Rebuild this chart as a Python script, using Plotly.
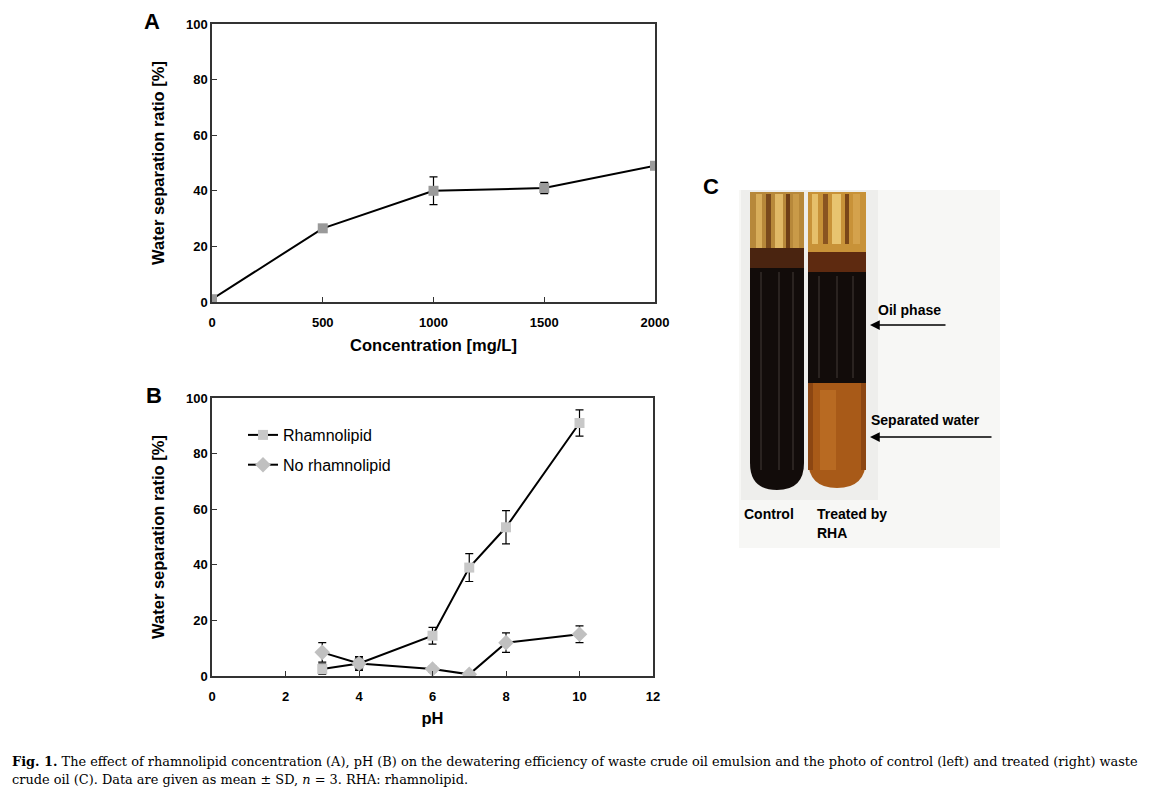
import plotly.graph_objects as go

# the page body has an 8px margin, so the figure is 8px smaller and every
# position below is given in reference pixels, shifted by OFF
OFF = 8
W, H = 1150 - OFF, 791 - OFF

# panel A: concentration series
conc = [0, 500, 1000, 1500, 2000]
conc_ratio = [1.0, 26.5, 40.0, 41.0, 49.0]
conc_sd = [0.6, 1.0, 5.0, 2.0, 1.0]

# panel B: pH series
ph = [3, 4, 6, 7, 8, 10]
rha_ratio = [2.5, 4.5, 14.5, 39.0, 53.5, 91.0]
rha_sd = [1.8, 2.5, 3.0, 5.0, 6.0, 4.7]
ctrl_ratio = [8.5, 4.5, 2.5, 0.6, 12.0, 15.0]
ctrl_sd = [3.5, 2.0, 1.0, 0.5, 3.5, 3.0]

y_ticks = [0, 20, 40, 60, 80, 100]
conc_ticks = [0, 500, 1000, 1500, 2000]
ph_ticks = [0, 2, 4, 6, 8, 10, 12]

FONT = "Liberation Sans"


def dx(x0, x1):
    return [(x0 - OFF) / W, (x1 - OFF) / W]


def dy(y0, y1):
    # pixel rows (top, bottom) -> paper domain
    return [1 - (y1 - OFF) / H, 1 - (y0 - OFF) / H]


fig = go.Figure()

err = dict(type="data", thickness=1.2, width=4, color="black")

fig.add_trace(go.Scatter(
    x=conc, y=conc_ratio, error_y=dict(array=conc_sd, **err),
    mode="lines+markers", line=dict(color="black", width=2),
    marker=dict(symbol="square", size=10, color="#9a9a9a"),
    showlegend=False, xaxis="x", yaxis="y"))

fig.add_trace(go.Scatter(
    x=ph, y=rha_ratio, error_y=dict(array=rha_sd, **err),
    mode="lines+markers", line=dict(color="black", width=2),
    marker=dict(symbol="square", size=10, color="#c8c8c8"),
    name="Rhamnolipid", legendgroup="a", xaxis="x2", yaxis="y2"))

fig.add_trace(go.Scatter(
    x=ph, y=ctrl_ratio, error_y=dict(array=ctrl_sd, **err),
    mode="lines+markers", line=dict(color="black", width=2),
    marker=dict(symbol="diamond", size=12, color="#c0c0c0"),
    name="No rhamnolipid", legendgroup="b", xaxis="x2", yaxis="y2"))

ax = dict(showgrid=False, zeroline=False, showline=True, mirror=True, automargin=False,
          linecolor="#333333", linewidth=1.5, ticks="inside", ticklen=5,
          tickcolor="#333333", tickfont=dict(family=FONT, size=13, color="black",
                                             weight="bold"))
title_font = dict(family=FONT, size=16.5, color="black", weight="bold")

fig.update_layout(
    width=W, height=H, margin=dict(l=0, r=0, t=0, b=0, autoexpand=False),
    paper_bgcolor="white", plot_bgcolor="rgba(0,0,0,0)",
    xaxis=dict(ax, domain=dx(212, 655), range=[0, 2000], tickvals=conc_ticks,
               anchor="y", ticklabelstandoff=8,
               title=dict(text="Concentration [mg/L]", font=title_font, standoff=10)),
    yaxis=dict(ax, domain=dy(24, 302), range=[0, 100], tickvals=y_ticks,
               anchor="x", title=dict(text="Water separation ratio [%]",
                                      font=title_font, standoff=17)),
    xaxis2=dict(ax, domain=dx(212, 653), range=[0, 12], tickvals=ph_ticks,
                anchor="y2", ticklabelstandoff=8,
                title=dict(text="pH", font=title_font, standoff=9)),
    yaxis2=dict(ax, domain=dy(398, 676), range=[0, 100], tickvals=y_ticks,
                anchor="x2", title=dict(text="Water separation ratio [%]",
                                        font=title_font, standoff=17)),
    # pixel overlay for the photo panel and the texts
    xaxis3=dict(domain=[0, 1], range=[OFF, OFF + W], visible=False, anchor="y3",
                automargin=False),
    yaxis3=dict(domain=[0, 1], range=[OFF + H, OFF], visible=False, anchor="x3",
                automargin=False),
    legend=dict(x=(243 - OFF) / W, y=1 - (418 - OFF) / H, xanchor="left", yanchor="top",
                font=dict(family=FONT, size=16, color="black"),
                bgcolor="rgba(0,0,0,0)", traceorder="grouped", tracegroupgap=6,
                itemwidth=30),
)

shapes = []


def rect(x0, y0, x1, y1, color, layer="above"):
    shapes.append(dict(type="rect", xref="x3", yref="y3", x0=x0, y0=y0, x1=x1, y1=y1,
                       fillcolor=color, line=dict(width=0), layer=layer))


def tube(x0, x1, ytop, ybot, color):
    r = (x1 - x0) / 2
    path = (f"M {x0},{ytop} L {x0},{ybot - r} Q {x0},{ybot} {x0 + r},{ybot} "
            f"Q {x1},{ybot} {x1},{ybot - r} L {x1},{ytop} Z")
    shapes.append(dict(type="path", xref="x3", yref="y3", path=path,
                       fillcolor=color, line=dict(width=0), layer="above"))


# photo background
rect(739, 190, 1000, 548, "#f7f7f5")
rect(741, 190, 878, 500, "#eeeeec")

# left tube (control)
tube(750, 804, 192, 490, "#120c0a")
rect(750, 192, 804, 262, "#b7883a")
for sx, sw, c in [(756, 6, "#d8ad5a"), (766, 5, "#7a4a1c"), (775, 8, "#e0b866"),
                  (786, 4, "#6e3e16"), (793, 6, "#c99a48")]:
    rect(sx, 194, sx + sw, 250, c)
rect(750, 248, 804, 268, "#4a2410")
for sx in [760, 778, 792]:
    rect(sx, 272, sx + 2, 470, "#2a2320")

# right tube (treated)
tube(808, 866, 192, 488, "#a85a18")
rect(808, 192, 866, 383, "#120c0a")
rect(808, 192, 866, 255, "#c89238")
for sx, sw, c in [(812, 6, "#e6bf6a"), (823, 5, "#8a5420"), (832, 9, "#e8c470"),
                  (845, 4, "#7a4618"), (853, 7, "#d4a24c")]:
    rect(sx, 194, sx + sw, 244, c)
rect(808, 252, 866, 272, "#5e2a10")
for sx in [818, 836, 852]:
    rect(sx, 276, sx + 2, 378, "#2a2320")
rect(808, 383, 813, 470, "#8c4612")
rect(861, 383, 866, 470, "#8c4612")
rect(820, 390, 836, 470, "#b86a22")

# arrows
arrows = [dict(x=870, y=325, ax=947, ay=325), dict(x=870, y=437, ax=993, ay=437)]

annotations = []
for a in arrows:
    annotations.append(dict(xref="x3", yref="y3", axref="x3", ayref="y3", text="",
                            showarrow=True, arrowhead=2, arrowsize=1.3, arrowwidth=1.5,
                            arrowcolor="black", **a))

lab = dict(family=FONT, size=14, color="black", weight="bold")
for txt, x, y in [("Oil phase", 876, 310), ("Separated water", 869, 420),
                  ("Control", 742, 514), ("Treated by", 815, 514), ("RHA", 815, 533)]:
    annotations.append(dict(xref="x3", yref="y3", x=x, y=y, text=txt, showarrow=False,
                            xanchor="left", yanchor="middle", font=lab))

letter = dict(family=FONT, size=22, color="black", weight="bold")
annotations.append(dict(xref="x3", yref="y3", x=143, y=OFF, text="A", showarrow=False,
                        xanchor="left", yanchor="top", borderpad=0, font=letter))
for txt, x, y in [("B", 144, 395), ("C", 701, 186)]:
    annotations.append(dict(xref="x3", yref="y3", x=x, y=y, text=txt, showarrow=False,
                            xanchor="left", yanchor="middle", font=letter))

cap = dict(family="DejaVu Serif", size=12.9, color="black")
annotations.append(dict(
    xref="x3", yref="y3", x=10, y=761, xanchor="left", yanchor="middle", showarrow=False,
    font=cap, text="<b>Fig. 1.</b> The effect of rhamnolipid concentration (A), pH (B) on the "
                   "dewatering efficiency of waste crude oil emulsion and the photo of control "
                   "(left) and treated (right) waste"))
annotations.append(dict(
    xref="x3", yref="y3", x=10, y=779, xanchor="left", yanchor="middle", showarrow=False,
    font=cap, text="crude oil (C). Data are given as mean ± SD, <i>n</i> = 3. RHA: rhamnolipid."))

fig.update_layout(shapes=shapes, annotations=annotations)

fig.write_html("out.html")
